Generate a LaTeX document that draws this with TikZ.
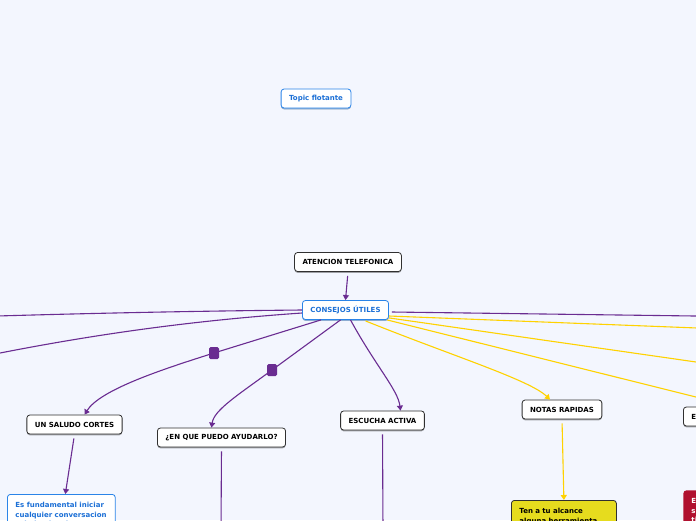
\documentclass[tikz,border=0pt]{standalone}
\usepackage{fontspec}
\setmainfont{DejaVu Sans}
\usetikzlibrary{arrows.meta,shadows,calc}
\definecolor{fondo}{HTML}{F3F6FE}
\definecolor{morado}{HTML}{6A2C91}
\definecolor{amarillo}{HTML}{FFD200}
\definecolor{azul}{HTML}{2A84E8}
\definecolor{azultx}{HTML}{1B6FD6}
\definecolor{borde}{HTML}{303030}
\definecolor{relleno}{HTML}{E6DC1E}
\definecolor{rojo}{HTML}{B0112F}

\begin{document}
\begin{tikzpicture}[
        x=1pt,y=-1pt,
        font=\fontsize{7}{9.5}\selectfont\bfseries,
        tema/.style={draw=borde,line width=.8pt,fill=white,rounded corners=3pt,
          inner xsep=8pt,minimum height=19pt,
          drop shadow={shadow xshift=0pt,shadow yshift=-1.3pt,fill=black,opacity=.35}},
        flot/.style={tema,draw=azul,text=azultx,
          drop shadow={shadow xshift=0pt,shadow yshift=-1.3pt,fill=azul!60,opacity=.6}},
        detalle/.style={draw=azul,line width=.8pt,fill=white,rounded corners=3pt,
          anchor=north west,inner sep=8pt,align=left,text=azultx},
        rama/.style={draw=morado,line width=1.1pt},
        ramaam/.style={draw=amarillo,line width=1.1pt},
        marca/.style={fill=morado,rounded corners=1.5pt,minimum width=10pt,
          minimum height=12pt,inner sep=0pt},
        punta/.style={-{Triangle[width=6pt,length=5pt]}}
      ]
      \useasboundingbox (0,0) rectangle (696,520);
      \fill[fondo] (0,0) rectangle (696,520);
      \clip (0,0) rectangle (696,520);

      % topics
      \node (flot) [flot] at (316,98.5) {Topic flotante};
      \node (aten) [tema] at (348,262) {ATENCION TELEFONICA};
      \node (cons) [flot] at (345.5,310) {CONSEJOS ÚTILES};
      \node (salu) [tema] at (74.5,424.5) {UN SALUDO CORTES};
      \node (ayud) [tema] at (221.5,437.5) {¿EN QUE PUEDO AYUDARLO?};
      \node (escu) [tema] at (382.5,420.5) {ESCUCHA ACTIVA};
      \node (nota) [tema] at (562,409.5) {NOTAS RAPIDAS};
      \node (ebox) [tema,anchor=west,text width=44pt,align=left] at (683,416.5) {E};

      % subtopics
      \node (fund) [detalle] at (7,494)
        {Es fundamental iniciar\\cualquier conversacion\\saludando a la persona};
      \node (herr) [detalle,draw=borde,fill=relleno,text=black,text width=89pt] at (511,500)
        {Ten a tu alcance\\alguna herramienta};
      \node (roja) [detalle,draw=none,fill=rojo,text=white,text width=60pt] at (683,490)
        {E\\s\\ti};

      % free ends
      \coordinate (L1) at (-10,316.2);
      \coordinate (L2) at (-10,355);
      \coordinate (R1) at (710,316.2);
      \coordinate (R2) at (710,328.5);
      \coordinate (R3) at (710,364);
      \coordinate (R4) at (740,408);
      \coordinate (D1) at (221,530);
      \coordinate (D2) at (383,530);
      \coordinate (m1) at (214,353);
      \coordinate (m2) at (272,370);

      % connectors
      \draw[rama,punta,shorten <=4pt] (aten.south) -- (cons.north);
      \draw[rama] (cons.west) .. controls (200,311) and (100,313) .. (L1);
      \draw[rama] ($(cons.west)+(0,3)$) .. controls (200,320) and (100,333) .. (L2);
      \draw[rama,punta] ($(cons.south west)+(19,0)$) -- (m1)
        .. controls (160,370) and (100,390) .. ([xshift=10pt]salu.north);
      \draw[rama,punta] ($(cons.south)+(-5,0)$) -- (m2)
        .. controls (238,395) and (214,410) .. ([xshift=-10pt]ayud.north);
      \draw[rama,punta] ($(cons.south)+(5,0)$)
        .. controls (375,365) and (398,390) .. ([xshift=18pt]escu.north);
      \draw[rama] ($(cons.east)+(3,2)$) -- (R1);
      \draw[ramaam] ($(cons.east)+(0,6)$) -- (R2);
      \draw[ramaam] ($(cons.south east)+(0,-2)$) -- (R3);
      \draw[ramaam] ($(cons.south east)+(-2,0)$) -- (R4);
      \draw[ramaam,punta] ($(cons.south)+(20,1)$)
        .. controls (450,355) and (530,380) .. ([xshift=-12pt]nota.north);
      \draw[rama,punta,shorten <=4pt] (salu.south) -- ([xshift=4pt]fund.north);
      \draw[rama,shorten <=4pt] (ayud.south) -- (D1);
      \draw[rama,shorten <=4pt] (escu.south) -- (D2);
      \draw[ramaam,punta,shorten <=4pt] (nota.south) -- (herr.north);

      \node [marca] at (m1) {};
      \node [marca] at (m2) {};
    \end{tikzpicture}
\end{document}
